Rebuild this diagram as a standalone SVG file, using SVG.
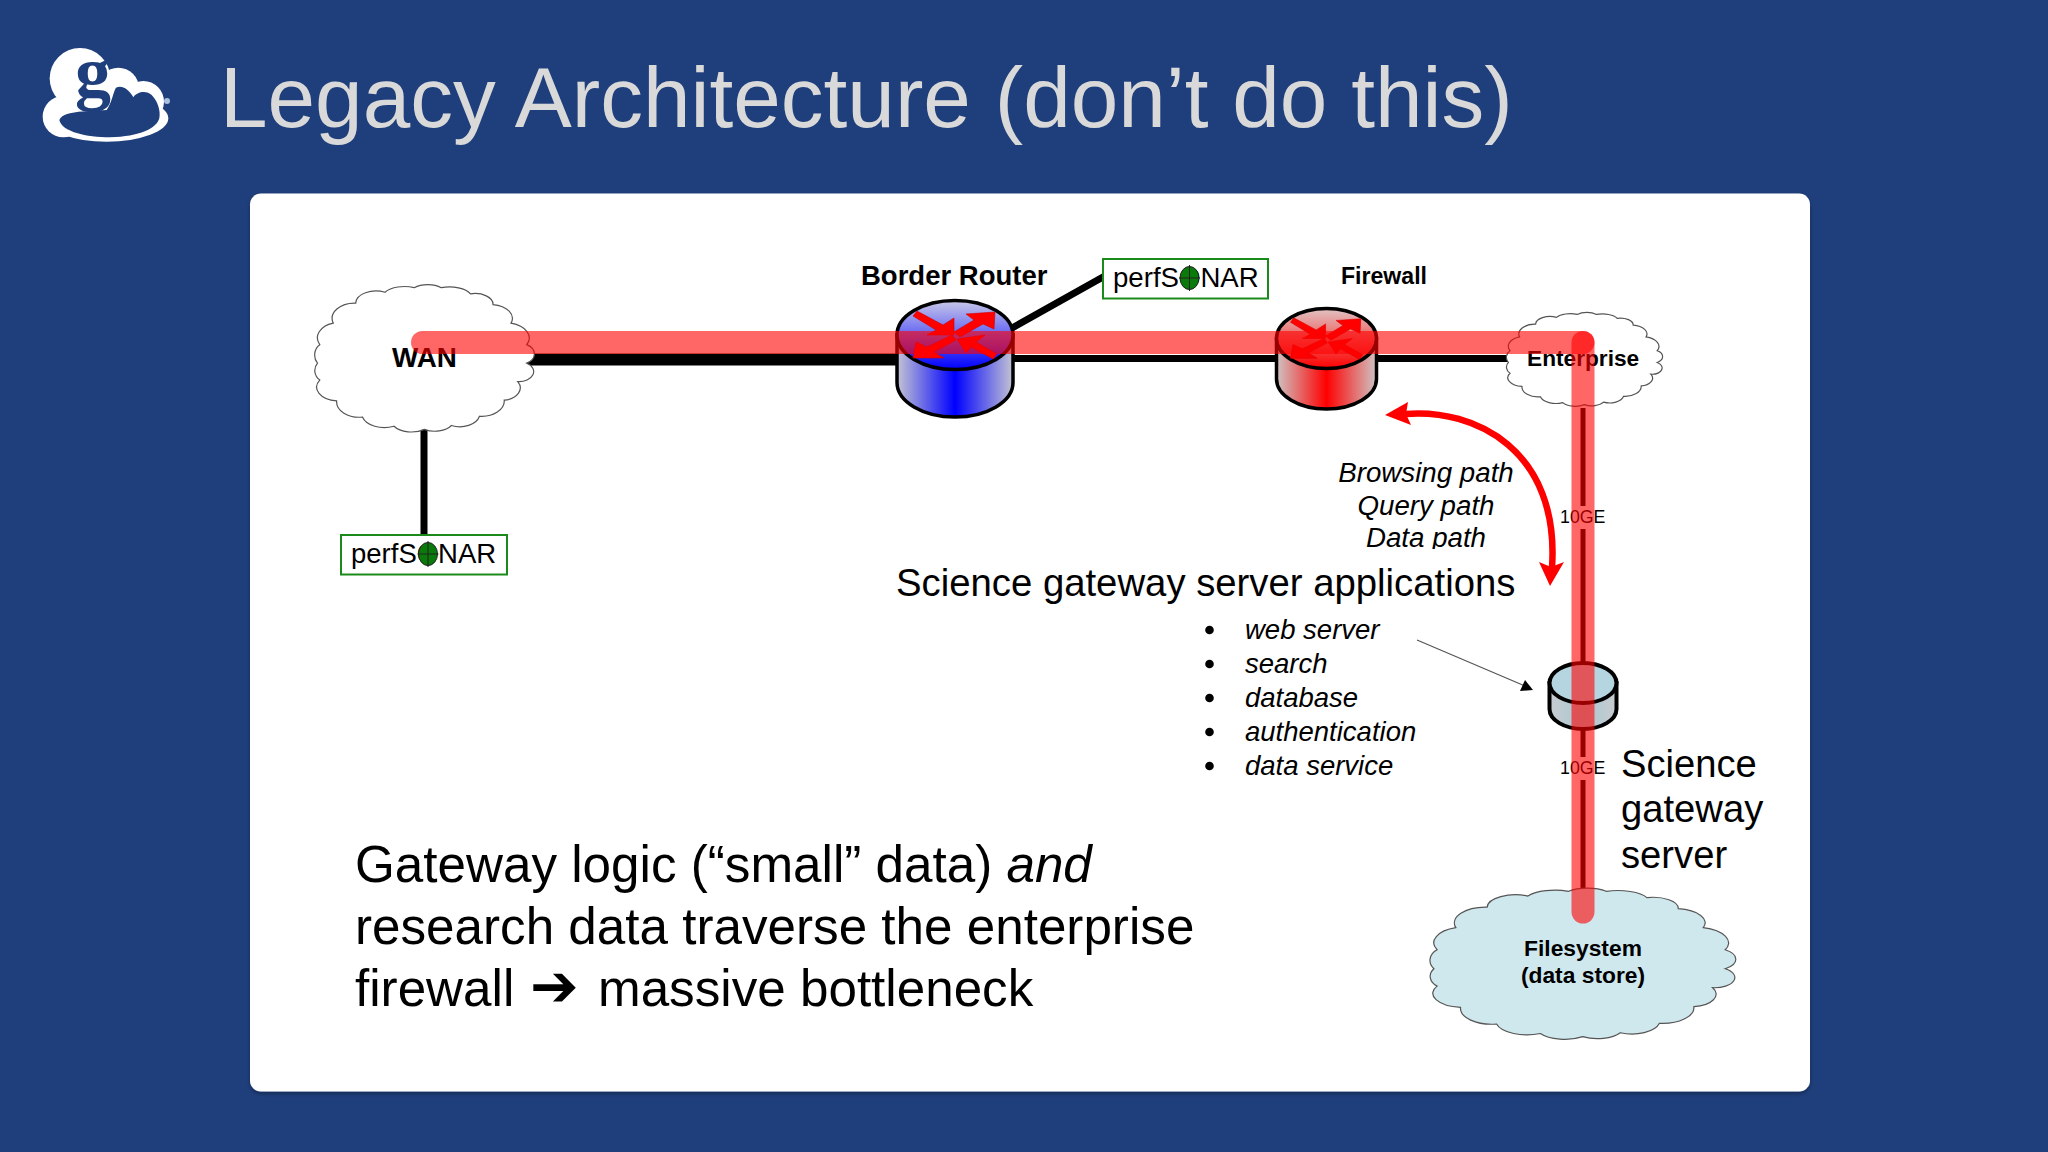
<svg xmlns="http://www.w3.org/2000/svg" width="2048" height="1152" viewBox="0 0 2048 1152">
<style>
text{font-family:"Liberation Sans",Arial,sans-serif;fill:#000}
.b{font-weight:bold}
.i{font-style:italic}
.cl{stroke:#555;stroke-width:1.2}
.ln{stroke:#000;fill:none;stroke-linecap:round}
.band{stroke:#f00;stroke-opacity:.6;stroke-width:23;fill:none;stroke-linecap:round}
.box{fill:#fff;stroke:#1a8a1a;stroke-width:2}
.son{fill:#0a7a0a;stroke:#222;stroke-width:1}
.cyl{stroke:#000;stroke-width:3.5}
.arw{fill:#f00;stroke:#d00000;stroke-width:.6}
</style>
<defs>
<path id="cloud" vector-effect="non-scaling-stroke" d="M94,6 A13 13 0 0 1 86,30 A16 16 0 0 1 74,54 A20 20 0 0 1 52,75 A18 18 0 0 1 27,87 A17 15 0 0 1 3,92 A18 15 0 0 1 -24,88 A20 18 0 0 1 -52,76 A20 20 0 0 1 -75,55 A20 18 0 0 1 -90,28 A12 16 0 0 1 -92,6 A10 16 0 0 1 -90,-18 A20 20 0 0 1 -78,-46 A20 20 0 0 1 -58,-72 A18 16 0 0 1 -32,-86 A20 15 0 0 1 -6,-92 A16 12 0 0 1 18,-92 A20 14 0 0 1 44,-84 A16 14 0 0 1 64,-70 A20 18 0 0 1 80,-46 A22 20 0 0 1 94,-18 A14 14 0 0 1 94,6 Z"/>
<g id="swarrows">
<polygon class="arw" points="-42,-19 -38,-24 -12,-10 -1,-17 -1,0 -28,0 -19,-5"/>
<polygon class="arw" points="-1,-3 19,-15 11,-21 40,-23 39,-6 28,-11 5,2"/>
<polygon class="arw" points="-3,0 -28,12 -39,7 -42,23 -11,23 -21,17 1,5"/>
<polygon class="arw" points="2,4 30,0 21,7 42,19 38,24 16,12 11,18"/>
</g>
<linearGradient id="bs" x1="0" x2="1" y1="0" y2="0"><stop offset="0" stop-color="#c4c4d4"/><stop offset=".5" stop-color="#0000ff"/><stop offset="1" stop-color="#c4c4d4"/></linearGradient>
<linearGradient id="bt" x1="0" x2="0" y1="0" y2="1"><stop offset="0" stop-color="#c8c8e8"/><stop offset="1" stop-color="#0000ff"/></linearGradient>
<linearGradient id="rs" x1="0" x2="1" y1="0" y2="0"><stop offset="0" stop-color="#cfc4c4"/><stop offset=".5" stop-color="#ff0000"/><stop offset="1" stop-color="#cfc4c4"/></linearGradient>
<linearGradient id="rt" x1="0" x2="0" y1="0" y2="1"><stop offset="0" stop-color="#e0c4c4"/><stop offset="1" stop-color="#ff0000"/></linearGradient>
<linearGradient id="ss" x1="0" x2="1" y1="0" y2="0"><stop offset="0" stop-color="#c8ccd0"/><stop offset=".5" stop-color="#a9c8d2"/><stop offset="1" stop-color="#c8ccd0"/></linearGradient>
<filter id="sh" x="-2%" y="-2%" width="104%" height="104%"><feDropShadow dx="0" dy="2" stdDeviation="2" flood-color="#000" flood-opacity=".35"/></filter>
</defs>
<rect width="2048" height="1152" fill="#1f3f7c"/>
<g id="logo">
<g transform="translate(0,20) scale(.3333)" fill="#fff">
<circle cx="240" cy="175" r="91"/><circle cx="355" cy="205" r="62"/><circle cx="430" cy="245" r="62"/><circle cx="190" cy="290" r="62"/><ellipse cx="320" cy="295" rx="185" ry="70"/>
<path fill="#1f3f7c" d="M178,300 C185,280 215,280 235,275 L320,270 C335,250 340,215 348,203 C365,195 385,205 400,232 C410,215 440,210 455,225 C475,245 482,275 478,295 C470,325 420,350 330,352 C260,352 185,335 178,300 Z"/>
</g>
<text x="75" y="97" font-size="72" style="font-family:'Liberation Serif',serif;font-weight:bold;fill:#1f3f7c">g</text>
<circle cx="167" cy="101" r="3" fill="#a9bfe0"/>
</g>
<text id="title" x="220" y="127" font-size="85.500" style="fill:#d9d9d9">Legacy Architecture (don’t do this)</text>
<rect id="panel" x="250" y="193.500" width="1560" height="898" rx="11" fill="#fff" filter="url(#sh)"/>
<g id="connectors">
<path class="ln" stroke-width="12" d="M530,359.500H900"/>
<path class="ln" stroke-width="7" d="M1010,358.500H1510"/>
<path class="ln" stroke-width="7" d="M424,430V535"/>
<path class="ln" stroke-width="7" d="M1012,328L1103,277"/>
<path class="ln" stroke-width="5" stroke="#000" style="stroke-linecap:butt" d="M1583,408V506M1583,529V665M1583,729V757M1583,780V895"/>
</g>
<g id="wan"><use href="#cloud" class="cl" fill="#fff" transform="translate(421,358.500) scale(1.125,.77)"/>
<text class="b" x="392" y="367" font-size="27.800">WAN</text></g>
<g id="enterprise"><use href="#cloud" class="cl" fill="#fff" transform="translate(1582,359.500) scale(.8,.49)"/>
<text class="b" x="1527" y="366" font-size="22.700">Enterprise</text></g>
<g id="filesystem"><use href="#cloud" class="cl" fill="#cfe8ee" transform="translate(1578,964) scale(1.566,.79)"/>
<text class="b" x="1583" y="956" font-size="22.800" text-anchor="middle">Filesystem</text>
<text class="b" x="1583" y="983" font-size="22.800" text-anchor="middle">(data store)</text></g>
<g id="router">
<text class="b" x="861" y="285" font-size="27.500">Border Router</text>
<path class="cyl" fill="url(#bs)" d="M897,335V382.500A58,34.500 0 0 0 1013,382.500V335Z"/>
<ellipse class="cyl" fill="url(#bt)" cx="955" cy="335" rx="58" ry="34.500"/>
<use href="#swarrows" transform="translate(955,335)"/>
</g>
<g id="firewall">
<text class="b" x="1341" y="284" font-size="23.100">Firewall</text>
<path class="cyl" fill="url(#rs)" d="M1276.500,338.500V379A50,30 0 0 0 1376.500,379V338.500Z"/>
<ellipse class="cyl" fill="url(#rt)" cx="1326.500" cy="338.500" rx="50" ry="30"/>
<use href="#swarrows" transform="translate(1326.500,338.500) scale(.86)"/>
</g>
<g id="perfsonar-top">
<rect class="box" x="1103" y="259" width="165" height="39.500"/>
<text x="1113" y="287" font-size="27.600">perfSONAR</text>
<ellipse class="son" cx="1189.500" cy="278" rx="9.500" ry="11.500"/>
<path stroke="#222" stroke-width="1" d="M1189.500,265V291M1179,278H1200"/>
</g>
<g id="perfsonar-wan">
<rect class="box" x="341" y="535" width="166" height="39.500"/>
<text x="351" y="563" font-size="27.500">perfSONAR</text>
<ellipse class="son" cx="428" cy="554" rx="9.500" ry="11.500"/>
<path stroke="#222" stroke-width="1" d="M428,541V567M417.500,554H438.500"/>
</g>
<g id="server">
<path class="cyl" fill="url(#ss)" d="M1549.500,683V709A33.500,20 0 0 0 1616.500,709V683Z" style="stroke-width:4"/>
<ellipse class="cyl" fill="#b5d6e0" cx="1583" cy="683" rx="33.500" ry="20" style="stroke-width:4"/>
<text x="1621" y="777" font-size="38.200">Science</text>
<text x="1621" y="822" font-size="38.200">gateway</text>
<text x="1621" y="868" font-size="38.200">server</text>
</g>
<g id="labels-10ge">
<text x="1560" y="523" font-size="17.800">10GE</text>
<text x="1560" y="774" font-size="17.800">10GE</text>
</g>
<g id="paths">
<path class="band" d="M422.500,342.500H1583"/>
<path class="band" d="M1583,342.500V912"/>
<path d="M1405,414C1475,408 1560,450 1552,568" fill="none" stroke="#f00" stroke-width="6.500"/>
<polygon fill="#f00" points="1385,415 1408,402 1406,414 1411,425"/>
<polygon fill="#f00" points="1550,586 1539,562 1551,567 1564,562"/>
<path d="M1417,640L1525,686" fill="none" stroke="#555" stroke-width="1.200"/>
<polygon fill="#000" points="1533,690 1525,680 1520,691"/>
</g>
<g id="path-labels">
<text class="i" x="1426" y="482" font-size="27.700" text-anchor="middle">Browsing path</text>
<text class="i" x="1426" y="515" font-size="27.700" text-anchor="middle">Query path</text>
<text class="i" x="1426" y="547" font-size="27.700" text-anchor="middle">Data path</text>
<rect x="1340" y="549" width="170" height="12" fill="#fff"/>
</g>
<g id="applications">
<text x="896" y="595.500" font-size="38.300">Science gateway server applications</text>
<g fill="#000"><circle cx="1209.500" cy="630" r="4.300"/><circle cx="1209.500" cy="664" r="4.300"/><circle cx="1209.500" cy="698" r="4.300"/><circle cx="1209.500" cy="732" r="4.300"/><circle cx="1209.500" cy="766" r="4.300"/></g>
<text class="i" x="1245" y="639" font-size="27.500">web server</text>
<text class="i" x="1245" y="673" font-size="27.500">search</text>
<text class="i" x="1245" y="707" font-size="27.500">database</text>
<text class="i" x="1245" y="741" font-size="27.500">authentication</text>
<text class="i" x="1245" y="775" font-size="27.500">data service</text>
</g>
<g id="caption" font-size="51.200">
<text x="355" y="882">Gateway logic (“small” data) <tspan class="i" style="font-style:italic">and</tspan></text>
<text x="355" y="944">research data traverse the enterprise</text>
<text x="355" y="1006">firewall<tspan x="530" font-size="58" style="font-family:'DejaVu Sans',sans-serif;font-weight:bold">➔</tspan><tspan x="598">massive bottleneck</tspan></text>
</g>
</svg>
